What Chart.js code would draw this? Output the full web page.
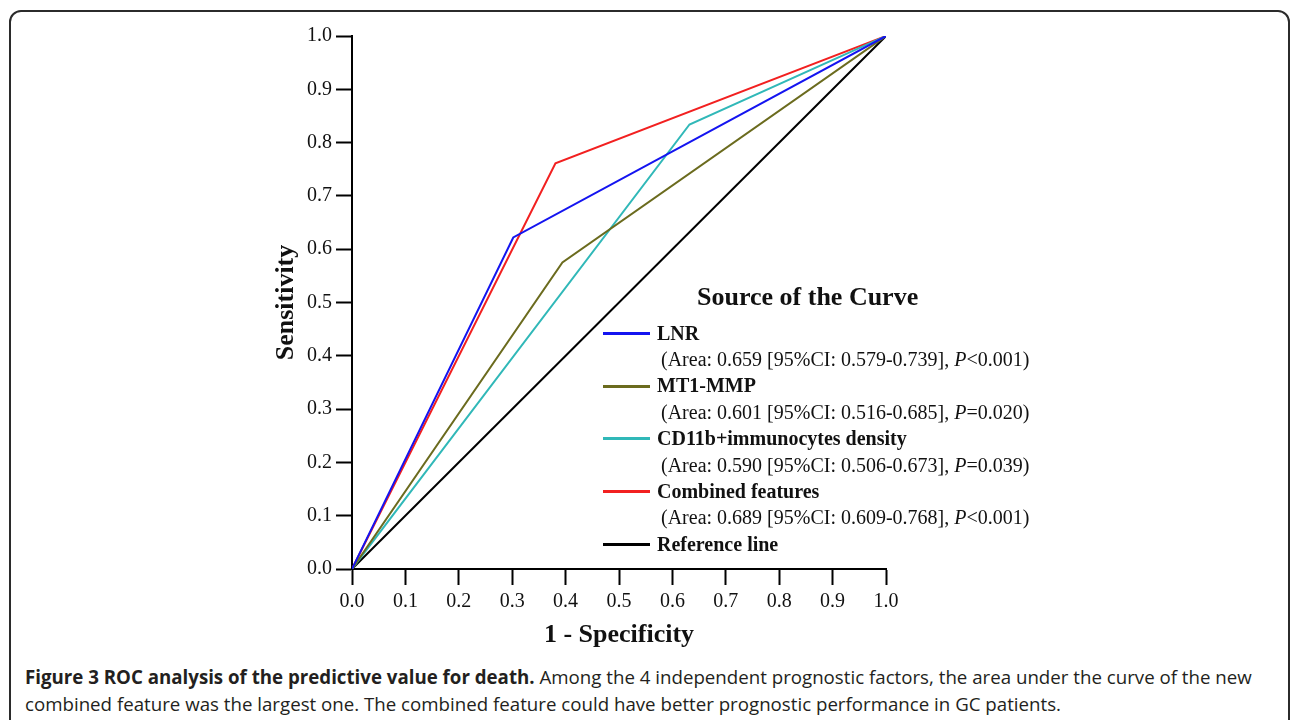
<!DOCTYPE html>
<html>
<head>
<meta charset="utf-8">
<script src="https://cdn.jsdelivr.net/npm/chart.js@4.4.1/dist/chart.umd.min.js"></script>
<style>
  html, body { margin: 0; padding: 0; background: #fff; }
  body { width: 1292px; height: 720px; position: relative; overflow: hidden; }
  .frame {
    position: absolute; left: 9px; top: 10px; width: 1281px; height: 800px;
    border: 2px solid #2b2b2b; border-radius: 12px; box-sizing: border-box;
  }
  #wrap { position: absolute; left: 0; top: 0; width: 1292px; height: 660px; }
  .leg { position: absolute; font-family: 'Liberation Serif', 'Times New Roman', serif; color: #111; white-space: nowrap; }
  .leg-title { font-size: 26px; line-height: 26px; font-weight: bold; }
  .leg-name { font-size: 20px; line-height: 20px; font-weight: bold; }
  .leg-area { font-size: 20px; line-height: 20px; }
  .swatch { position: absolute; width: 47px; height: 3px; }
  .caption {
    position: absolute; left: 25px; top: 663px; width: 1262px; white-space: nowrap;
    font-family: 'Open Sans', sans-serif; font-size: 18.7px; line-height: 27px; color: #231f20;
  }
  .caption b { font-weight: bold; }
</style>
</head>
<body>
<div class="frame"></div>
<div id="wrap"><canvas id="roc"></canvas></div>
<div id="legend"></div>
<div class="caption"><b>Figure 3 ROC analysis of the predictive value for death.</b> Among the 4 independent prognostic factors, the area under the curve of the new<br>combined feature was the largest one. The combined feature could have better prognostic performance in GC patients.</div>
<script>
// --- data ---
const seriesNames = ['LNR', 'MT1-MMP', 'CD11b+immunocytes density', 'Combined features', 'Reference line'];
const areaTexts = [
  'Area: 0.659 [95%CI: 0.579-0.739], <i>P</i>&lt;0.001',
  'Area: 0.601 [95%CI: 0.516-0.685], <i>P</i>=0.020',
  'Area: 0.590 [95%CI: 0.506-0.673], <i>P</i>=0.039',
  'Area: 0.689 [95%CI: 0.609-0.768], <i>P</i>&lt;0.001',
  null
];
const specX = {
  lnr:      [0, 0.302, 1],
  mmp:      [0, 0.394, 1],
  cd11b:    [0, 0.632, 1],
  combined: [0, 0.381, 1],
  ref:      [0, 1]
};
const sensY = {
  lnr:      [0, 0.622, 1],
  mmp:      [0, 0.575, 1],
  cd11b:    [0, 0.834, 1],
  combined: [0, 0.761, 1],
  ref:      [0, 1]
};
const seriesKeys = ['lnr', 'mmp', 'cd11b', 'combined', 'ref'];
const seriesColors = ['#1414f0', '#6b6b1e', '#30b8b8', '#f22020', '#000000'];
const tickValues = [0, 0.1, 0.2, 0.3, 0.4, 0.5, 0.6, 0.7, 0.8, 0.9, 1.0];

const pts = (k) => specX[k].map((x, i) => ({ x: x, y: sensY[k][i] }));

const SERIF = "'Liberation Serif', 'Times New Roman', serif";

const axisCommon = {
  type: 'linear',
  min: 0,
  max: 1,
  border: { display: true, color: '#000', width: 2 },
  grid: { drawOnChartArea: false, drawTicks: true, tickLength: 16, tickColor: '#000', tickWidth: 2 },
  afterBuildTicks: (scale) => { scale.ticks = tickValues.map(v => ({ value: v })); }
};

new Chart(document.getElementById('roc'), {
  type: 'line',
  data: {
    datasets: seriesKeys.map((k, i) => ({
      label: seriesNames[i],
      data: pts(k),
      borderColor: seriesColors[i],
      borderWidth: 2,
      pointRadius: 0,
      tension: 0,
      fill: false
    }))
  },
  options: {
    responsive: true,
    maintainAspectRatio: false,
    animation: false,
    layout: { padding: { left: 0, top: 36, right: 406, bottom: 0 } },
    plugins: { legend: { display: false }, tooltip: { enabled: false } },
    scales: {
      x: Object.assign({}, axisCommon, {
        position: 'bottom',
        ticks: { color: '#111', padding: 5, font: { family: SERIF, size: 20 }, callback: v => v.toFixed(1) },
        title: { display: true, text: '1 - Specificity', color: '#111', font: { family: SERIF, size: 26, weight: 'bold' }, padding: { top: 0, bottom: 9 } },
        afterFit: (scale) => { scale.height = 91; }
      }),
      y: Object.assign({}, axisCommon, {
        position: 'left',
        ticks: { color: '#111', padding: 4, font: { family: SERIF, size: 20 }, callback: v => v.toFixed(1) },
        title: { display: true, text: 'Sensitivity', color: '#111', font: { family: SERIF, size: 26, weight: 'bold' }, padding: { top: 271, bottom: 0 } },
        afterFit: (scale) => { scale.width = 352; }
      })
    }
  }
});

// --- legend ("Source of the Curve") ---
const legend = document.getElementById('legend');
const addDiv = (cls, text, left, top) => {
  const d = document.createElement('div');
  d.className = 'leg ' + cls;
  d.innerHTML = text;
  d.style.left = left + 'px';
  d.style.top = top + 'px';
  legend.appendChild(d);
};
addDiv('leg-title', 'Source of the Curve', 697, 284);
const rowStep = 52.8;
seriesNames.forEach((name, i) => {
  const base = 339.3 + i * rowStep;
  const sw = document.createElement('div');
  sw.className = 'swatch';
  sw.style.background = seriesColors[i];
  sw.style.left = '603px';
  sw.style.top = (base - 7.5) + 'px';
  legend.appendChild(sw);
  addDiv('leg-name', name, 657, base - 16.75);
  if (areaTexts[i]) addDiv('leg-area', '(' + areaTexts[i] + ')', 661, base + 26.4 - 16.75);
});
</script>
</body>
</html>
